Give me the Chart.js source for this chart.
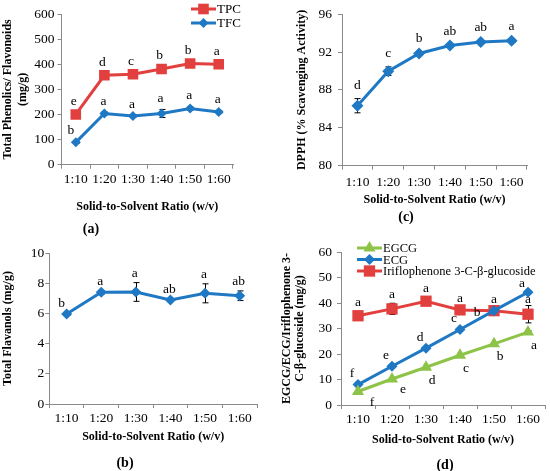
<!DOCTYPE html>
<html><head><meta charset="utf-8">
<script src="https://cdn.jsdelivr.net/npm/chart.js@4.4.1/dist/chart.umd.min.js"></script>
<style>
html,body{margin:0;padding:0;background:#fff;}
#wrap{position:relative;width:550px;height:471px;overflow:hidden;background:#fff;}
.panel{position:absolute;}
.lab{position:absolute;font:bold 14px "Liberation Serif","Times New Roman",serif;color:#000;transform:translate(-50%,-50%);white-space:nowrap;}
</style></head><body>
<div id="wrap">
  <div class="panel" style="left:0;top:0;"><canvas id="ca" width="275" height="235"></canvas></div>
  <div class="panel" style="left:275px;top:0;"><canvas id="cc" width="275" height="235"></canvas></div>
  <div class="panel" style="left:0;top:235px;"><canvas id="cb" width="275" height="236"></canvas></div>
  <div class="panel" style="left:275px;top:235px;"><canvas id="cd" width="275" height="236"></canvas></div>
  <div class="lab" style="left:91px;top:229px">(a)</div>
  <div class="lab" style="left:406px;top:217px">(c)</div>
  <div class="lab" style="left:125px;top:463px">(b)</div>
  <div class="lab" style="left:445px;top:465px">(d)</div>
</div>
<script>
// ---------- data ----------
const ratios = ['1:10', '1:20', '1:30', '1:40', '1:50', '1:60'];

const tpc = [200, 356, 360, 381, 403, 400];
const tpcErr = [4, 5, 5, 6, 5, 5];
const tpcLetters = ['e', 'd', 'c', 'b', 'b', 'a'];
const tfc = [89, 204, 194, 204, 224, 210];
const tfcErr = [4, 6, 4, 16, 6, 4];
const tfcLetters = ['b', 'a', 'a', 'a', 'a', 'a'];

const dpph = [86.33, 89.98, 91.84, 92.68, 93.06, 93.19];
const dpphErr = [0.75, 0.45, 0.2, 0.15, 0.15, 0.15];
const dpphLetters = ['d', 'c', 'b', 'ab', 'ab', 'a'];

const flav = [5.96, 7.4, 7.42, 6.89, 7.33, 7.17];
const flavErr = [0.08, 0.12, 0.62, 0.1, 0.63, 0.32];
const flavLetters = ['b', 'a', 'a', 'ab', 'a', 'ab'];

const egcg = [5.3, 10.2, 14.8, 19.5, 24.0, 28.6];
const egcgErr = [0.3, 0.3, 0.3, 0.3, 0.4, 0.5];
const egcgLetters = ['f', 'e', 'd', 'c', 'b', 'a'];
const ecg = [8.0, 15.2, 22.3, 29.6, 37.0, 44.2];
const ecgErr = [0.3, 0.3, 0.4, 0.4, 0.4, 0.5];
const ecgLetters = ['f', 'e', 'd', 'c', 'b', 'a'];
const irif = [35.0, 37.7, 40.7, 37.3, 37.0, 35.6];
const irifErr = [0.8, 2.2, 1.6, 0.8, 1.0, 3.4];
const irifLetters = ['a', 'a', 'a', 'a', 'a', 'a'];

const yTicksA = {min: 0, max: 600, step: 100};
const yTicksC = {min: 80, max: 96, step: 4};
const yTicksB = {min: 0, max: 10, step: 2};
const yTicksD = {min: 0, max: 60, step: 10};

// ---------- style ----------
const RED = '#E2403E', BLUE = '#1F78C3', GREEN = '#8DC347', AX = '#8a8a8a';
const SERIF = '"Liberation Serif","Times New Roman",serif';

function drawMarker(ctx, style, r, x, y) {
  ctx.beginPath();
  if (style === 'rect') {
    const s = Math.SQRT1_2 * r; ctx.rect(x - s, y - s, 2 * s, 2 * s);
  } else if (style === 'rectRot') {
    ctx.moveTo(x - r, y); ctx.lineTo(x, y - r); ctx.lineTo(x + r, y); ctx.lineTo(x, y + r); ctx.closePath();
  } else if (style === 'triangle') {
    const a = 2 * Math.PI / 3;
    ctx.moveTo(x, y - r);
    ctx.lineTo(x + Math.sin(a) * r, y - Math.cos(a) * r);
    ctx.lineTo(x + Math.sin(2 * a) * r, y - Math.cos(2 * a) * r);
    ctx.closePath();
  }
  ctx.fill();
}

const extras = {
  id: 'extras',
  beforeDatasetsDraw(chart, args, opts) {
    const ctx = chart.ctx, ys = chart.scales.y;
    ctx.save();
    // error bars (behind the markers)
    (opts.err || []).forEach((errs, di) => {
      if (!errs) return;
      const meta = chart.getDatasetMeta(di);
      const data = chart.data.datasets[di].data;
      ctx.strokeStyle = '#000'; ctx.lineWidth = 1;
      meta.data.forEach((pt, i) => {
        const e = errs[i]; if (!e) return;
        const y1 = ys.getPixelForValue(data[i] + e), y2 = ys.getPixelForValue(data[i] - e);
        const x = Math.round(pt.x) + 0.5;
        ctx.beginPath();
        ctx.moveTo(x, y1); ctx.lineTo(x, y2);
        ctx.moveTo(x - 3, y1); ctx.lineTo(x + 3, y1);
        ctx.moveTo(x - 3, y2); ctx.lineTo(x + 3, y2);
        ctx.stroke();
      });
    });
    ctx.restore();
  },
  afterDatasetsDraw(chart, args, opts) {
    const ctx = chart.ctx, ys = chart.scales.y;
    ctx.save();
    // significance letters
    ctx.fillStyle = '#000';
    ctx.font = '13.5px ' + SERIF;
    ctx.textAlign = 'center'; ctx.textBaseline = 'middle';
    (opts.letters || []).forEach(L => {
      const meta = chart.getDatasetMeta(L.ds);
      const data = chart.data.datasets[L.ds].data;
      const errs = (opts.err || [])[L.ds] || [];
      meta.data.forEach((pt, i) => {
        const e = L.useErr ? (errs[i] || 0) : 0;
        const adj = (L.adj && L.adj[i]) || [0, 0];
        const y = ys.getPixelForValue(data[i] + e) + L.dy + adj[1];
        ctx.fillText(L.text[i], pt.x + (L.dx || 0) + adj[0], y);
      });
    });
    // legend
    (opts.legend || []).forEach(it => {
      const d = chart.data.datasets[it.ds];
      ctx.strokeStyle = d.borderColor; ctx.lineWidth = 3;
      ctx.beginPath(); ctx.moveTo(it.x0, it.y); ctx.lineTo(it.x1, it.y); ctx.stroke();
      ctx.fillStyle = d.borderColor;
      drawMarker(ctx, d.pointStyle, d.pointRadius, (it.x0 + it.x1) / 2, it.y);
      ctx.fillStyle = '#000';
      ctx.font = it.size + 'px ' + SERIF;
      ctx.textAlign = 'left'; ctx.textBaseline = 'middle';
      ctx.fillText(d.label, it.x1 + 1, it.y + 1);
    });
    ctx.restore();
  }
};

function ds(label, data, color, style, radius) {
  return {label, data, borderColor: color, backgroundColor: color,
    pointBackgroundColor: color, pointBorderColor: color, pointBorderWidth: 0,
    pointStyle: style, pointRadius: radius, pointHoverRadius: radius,
    borderWidth: 3, tension: 0, fill: false};
}

function makeChart(id, cfg) {
  const el = document.getElementById(id);
  const W = el.width, H = el.height;
  const tickFont = {family: SERIF, size: 13.5};
  const titleFont = {family: SERIF, size: 12, weight: 'bold', lineHeight: cfg.yLH || 1.2};
  return new Chart(el, {
    type: 'line',
    data: {labels: ratios, datasets: cfg.datasets},
    plugins: [extras],
    options: {
      responsive: false, animation: false,
      layout: {autoPadding: false, padding: {left: 0, top: cfg.area[1], right: W - cfg.area[2], bottom: 0}},
      plugins: {legend: {display: false}, tooltip: {enabled: false}, extras: cfg.extras},
      scales: {
        x: {
          type: 'category', offset: true,
          grid: {offset: true, drawOnChartArea: false, drawTicks: true, tickLength: 4, color: AX, lineWidth: 1},
          border: {display: true, color: AX, width: 1},
          ticks: {font: tickFont, color: '#000', padding: cfg.xPad, maxRotation: 0, autoSkip: false},
          title: {display: true, text: 'Solid-to-Solvent Ratio (w/v)', color: '#000',
            font: {family: SERIF, size: 12, weight: 'bold'}, padding: {top: 0, bottom: cfg.xTitlePad}},
          afterFit: s => { s.height = H - cfg.area[3]; }
        },
        y: {
          min: cfg.yt.min, max: cfg.yt.max,
          grid: {drawOnChartArea: false, drawTicks: true, tickLength: 4, color: AX, lineWidth: 1},
          border: {display: true, color: AX, width: 1},
          ticks: {stepSize: cfg.yt.step, font: tickFont, color: '#000', padding: cfg.yPad},
          title: {display: true, text: cfg.yTitle, color: '#000', font: titleFont, padding: {top: cfg.yTitlePad, bottom: 0}},
          afterFit: s => { s.width = cfg.area[0]; }
        }
      }
    }
  });
}

// (a)
makeChart('ca', {
  area: [61.5, 14, 233, 164.7],
  yt: yTicksA, xPad: 3, yPad: 3, xTitlePad: 21, yTitlePad: 1,
  yTitle: ['Total Phenolics/ Flavonoids', '(mg/g)'],
  datasets: [ds('TPC', tpc, RED, 'rect', 7.5), ds('TFC', tfc, BLUE, 'rectRot', 5)],
  extras: {
    err: [tpcErr, tfcErr],
    letters: [
      {ds: 0, text: tpcLetters, dx: -2, dy: -12, useErr: true},
      {ds: 1, text: tfcLetters, dx: -1, dy: -11, useErr: true, adj: {0: [-4, 0]}}
    ],
    legend: [
      {ds: 0, x0: 191, x1: 216, y: 9, size: 13},
      {ds: 1, x0: 191, x1: 216, y: 23, size: 13}
    ]
  }
});

// (c)
makeChart('cc', {
  area: [67, 8, 252, 165.7],
  yt: yTicksC, xPad: 4.5, yPad: 6, xTitlePad: 28, yTitlePad: 20,
  yTitle: 'DPPH (% Scavenging Activity)',
  datasets: [ds('DPPH', dpph, BLUE, 'rectRot', 6)],
  extras: {
    err: [dpphErr],
    letters: [{ds: 0, text: dpphLetters, dx: 0, dy: -13, useErr: true}]
  }
});

// (b)
makeChart('cb', {
  area: [49.3, 18, 257, 169],
  yt: yTicksB, xPad: 2.5, yPad: 1, xTitlePad: 27, yTitlePad: 1,
  yTitle: 'Total Flavanols (mg/g)',
  datasets: [ds('Total Flavanols', flav, BLUE, 'rectRot', 5.5)],
  extras: {
    err: [flavErr],
    letters: [{ds: 0, text: flavLetters, dx: -1, dy: -9, useErr: true, adj: {0: [-4, 0]}}]
  }
});

// (d)
makeChart('cd', {
  area: [66, 17, 270, 170],
  yt: yTicksD, xPad: 2.5, yPad: 5, xTitlePad: 24, yTitlePad: 5, yLH: 1.1,
  yTitle: ['EGCG/ECG/Iriflophenone 3-', 'C-β-glucoside (mg/g)'],
  datasets: [
    ds('EGCG', egcg, GREEN, 'triangle', 7),
    ds('ECG', ecg, BLUE, 'rectRot', 5.5),
    ds('Iriflophenone 3-C-β-glucoside', irif, RED, 'rect', 8)
  ],
  extras: {
    err: [egcgErr, ecgErr, irifErr],
    letters: [
      {ds: 0, text: egcgLetters, dx: 6, dy: 13, useErr: false, adj: {0: [8, -2], 1: [5, -3]}},
      {ds: 1, text: ecgLetters, dx: -6, dy: -11, useErr: false, adj: {4: [-11, 13], 5: [0, 2]}},
      {ds: 2, text: irifLetters, dx: 0, dy: -9, useErr: true, adj: {0: [0, -2], 5: [0, 3]}}
    ],
    legend: [
      {ds: 0, x0: 82, x1: 107, y: 13, size: 12.5},
      {ds: 1, x0: 82, x1: 107, y: 24.5, size: 12.5},
      {ds: 2, x0: 82, x1: 107, y: 36, size: 12.5}
    ]
  }
});
</script>
</body></html>
